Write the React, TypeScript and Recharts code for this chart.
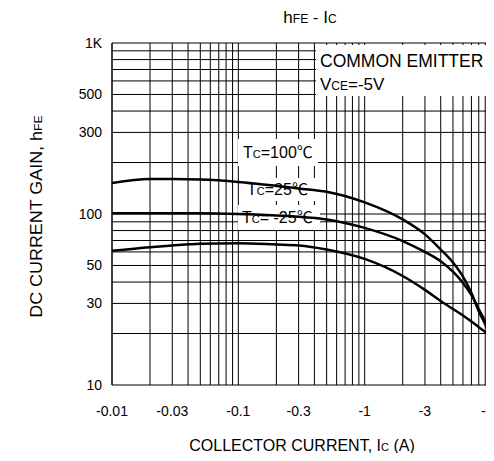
import { LineChart, Line, XAxis, YAxis, CartesianGrid } from 'recharts'

// collector current |Ic| in A (axis shows the negative sign)
const currents = [0.01, 0.02, 0.03, 0.05, 0.1, 0.2, 0.3, 0.5, 1, 2, 3, 4, 5, 6, 7, 8, 9, 10]
const hfe100 = [152, 160, 160, 159, 154, 146, 141, 135, 117, 93, 76, 62, 52, 43, 34.5, 27, 22.7, 19]
const hfe25 = [101, 101, 101, 101, 100, 98, 96.5, 93, 83, 69.5, 60, 53, 46, 39.5, 33.5, 27.8, 23.4, 19]
const hfeM25 = [61, 64, 65.5, 67, 67.4, 66.3, 65.5, 62, 54.6, 43.4, 36, 31, 27.8, 25.5, 23.5, 21.8, 20.4, 18.8]

const xTicks = [0.01, 0.03, 0.1, 0.3, 1, 3, 10]
const yTicks = [10, 30, 50, 100, 300, 500, 1000]

const xGrid = [
  0.01, 0.02, 0.03, 0.04, 0.05, 0.06, 0.07, 0.08, 0.09,
  0.1, 0.2, 0.3, 0.4, 0.5, 0.6, 0.7, 0.8, 0.9,
  1, 2, 3, 4, 5, 6, 7, 8, 9, 10,
]
const yGrid = [20, 30, 40, 50, 60, 70, 80, 90, 100, 200, 300, 400, 500, 600, 700, 800, 900, 1000]

const data = currents.map((ic, i) => ({ ic, t100: hfe100[i], t25: hfe25[i], tm25: hfeM25[i] }))

const FONT = '"Liberation Sans", Arial, "Noto Sans CJK JP", sans-serif'

export default function App() {
  return (
    <div
      style={{
        position: 'relative',
        width: 494,
        height: 461,
        margin: -8,
        overflow: 'hidden',
        background: '#fff',
        fontFamily: FONT,
        color: '#000',
      }}
    >
      <LineChart width={494} height={461} data={data} margin={{ top: 43, right: 3, bottom: 0, left: 0 }}>
        <CartesianGrid stroke="#000" horizontalValues={yGrid} verticalValues={xGrid} />
        <XAxis
          dataKey="ic"
          type="number"
          scale="log"
          domain={[0.01, 10]}
          allowDataOverflow
          ticks={xTicks}
          interval={0}
          tickFormatter={(v: number) => `-${v}`}
          height={76}
          tickLine={false}
          tickMargin={15}
          axisLine={{ stroke: '#000' }}
          tick={{ fill: '#000', fontSize: 14 }}
        />
        <YAxis
          type="number"
          scale="log"
          domain={[10, 1000]}
          allowDataOverflow
          ticks={yTicks}
          interval={0}
          tickFormatter={(v: number) => (v === 1000 ? '1K' : String(v))}
          width={112}
          tickLine={false}
          tickMargin={4}
          axisLine={{ stroke: '#000' }}
          tick={{ fill: '#000', fontSize: 14 }}
        />

        {/* legend box + curve labels, under the curves */}
        <g fontFamily={FONT} fill="#000">
          <rect x={316} y={45} width={171} height={51} fill="#fff" />
          <text x={320} y={67} fontSize={17.5}>COMMON EMITTER</text>
          <text x={320} y={90} fontSize={17}>
            V<tspan fontSize={12}>CE</tspan>=-5V
          </text>

          <rect x={238} y={139} width={80} height={27} fill="#fff" />
          <text x={243} y={158} fontSize={16}>
            T<tspan fontSize={11}>C</tspan>=100℃
          </text>
          <rect x={243} y={178} width={74} height={23} fill="#fff" />
          <text x={247} y={195} fontSize={16}>
            T<tspan fontSize={11}>C</tspan>=25℃
          </text>
          <rect x={238} y={205} width={82} height={25} fill="#fff" />
          <text x={242} y={223} fontSize={16}>
            T<tspan fontSize={11}>C</tspan>= -25℃
          </text>
        </g>

        <Line dataKey="t100" type="monotone" stroke="#000" strokeWidth={2.5} dot={false} isAnimationActive={false} />
        <Line dataKey="t25" type="monotone" stroke="#000" strokeWidth={2.5} dot={false} isAnimationActive={false} />
        <Line dataKey="tm25" type="monotone" stroke="#000" strokeWidth={2.5} dot={false} isAnimationActive={false} />
      </LineChart>

      {/* title */}
      <div style={{ position: 'absolute', left: 240, width: 140, top: 9, textAlign: 'center', fontSize: 17, lineHeight: '17px' }}>
        h<span style={{ fontSize: 12 }}>FE</span> - I<span style={{ fontSize: 12 }}>C</span>
      </div>

      {/* x axis title */}
      <div style={{ position: 'absolute', left: 152, width: 300, top: 438, textAlign: 'center', fontSize: 16, lineHeight: '16px' }}>
        COLLECTOR CURRENT, I<span style={{ fontSize: 11 }}>C</span> (A)
      </div>

      {/* y axis title */}
      <div
        style={{
          position: 'absolute',
          left: 37 - 120,
          top: 216 - 9,
          width: 240,
          textAlign: 'center',
          fontSize: 16,
          lineHeight: '18px',
          transform: 'rotate(-90deg) scaleX(1.12)',
          whiteSpace: 'nowrap',
        }}
      >
        DC CURRENT GAIN, h<span style={{ fontSize: 11 }}>FE</span>
      </div>
    </div>
  )
}
